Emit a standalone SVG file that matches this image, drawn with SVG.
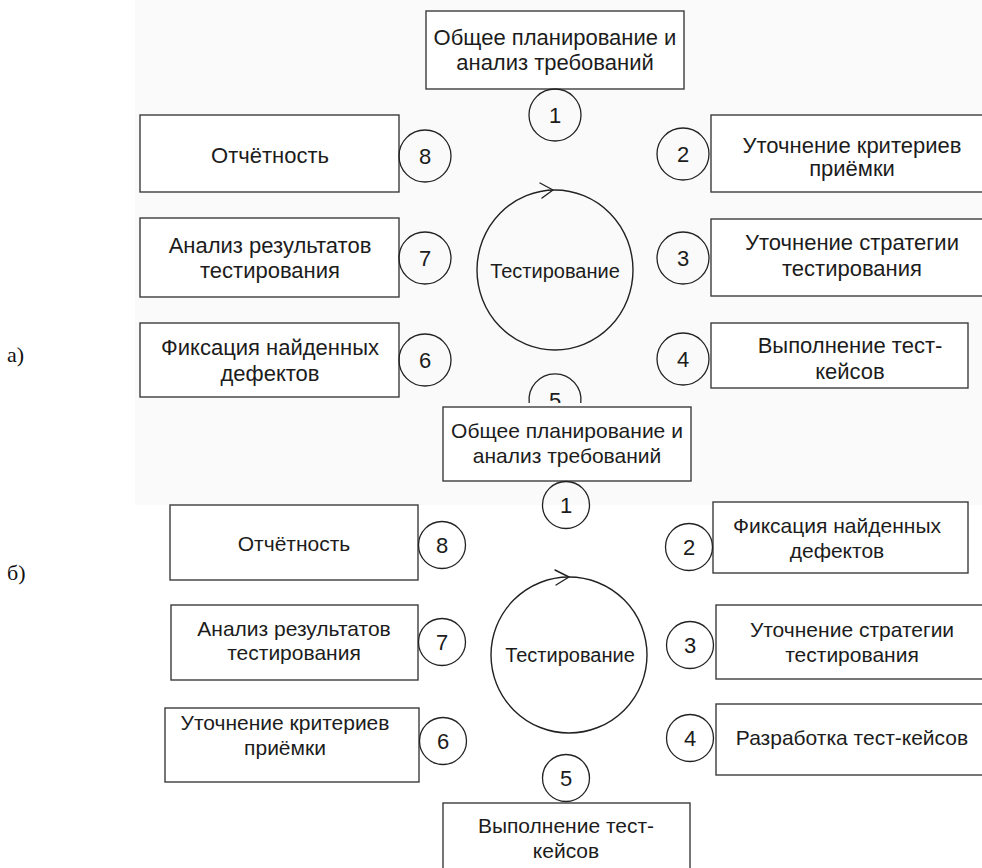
<svg xmlns="http://www.w3.org/2000/svg" width="982" height="868" viewBox="0 0 982 868">
<style>
.box{fill:#ffffff;stroke:#3c3c3c;stroke-width:1.4}
.num{fill:none;stroke:#222;stroke-width:1.3}
.cyc{fill:none;stroke:#222;stroke-width:1.4}
.arr{fill:none;stroke:#222;stroke-width:1.4;stroke-linecap:round;stroke-linejoin:round}
.t{font-family:"Liberation Sans",Arial,sans-serif;fill:#1c1c1c;text-anchor:middle}
.ta{font-size:22px}
.tb{font-size:21px}
.tc{font-size:20px}
.d{font-family:"Liberation Sans",Arial,sans-serif;fill:#1c1c1c;text-anchor:middle;font-size:22px}
.lbl{font-family:"Liberation Serif","Times New Roman",serif;font-size:22px;fill:#111}
</style>
<defs>
<clipPath id="clip5"><rect x="500" y="360" width="120" height="43"/></clipPath>
</defs>
<rect x="0" y="0" width="982" height="868" fill="#ffffff"/>
<rect x="135" y="0" width="847" height="505" fill="#fafafa"/>

<text class="lbl" x="7" y="362">а)</text>
<text class="lbl" x="7" y="580">б)</text>

<!-- Part a -->
<g id="a-step1">
<rect class="box" x="426" y="11" width="258" height="78"/>
<text class="t ta" x="555" y="45">Общее планирование и</text>
<text class="t ta" x="555" y="70">анализ требований</text>
</g>
<g id="a-num1"><circle class="num" cx="555" cy="115" r="26"/><text class="d" x="555" y="123">1</text></g>
<g id="a-step8">
<rect class="box" x="140" y="115" width="259" height="77"/>
<text class="t ta" x="270" y="163">Отчётность</text>
</g>
<g id="a-num8"><circle class="num" cx="425" cy="156" r="26"/><text class="d" x="425" y="164">8</text></g>
<g id="a-step2">
<rect class="box" x="711" y="115" width="272" height="77"/>
<text class="t ta" x="852" y="153">Уточнение критериев</text>
<text class="t ta" x="852" y="176">приёмки</text>
</g>
<g id="a-num2"><circle class="num" cx="683" cy="154" r="26"/><text class="d" x="683" y="162">2</text></g>
<g id="a-step7">
<rect class="box" x="140" y="218" width="259" height="79"/>
<text class="t ta" x="270" y="253">Анализ результатов</text>
<text class="t ta" x="270" y="278">тестирования</text>
</g>
<g id="a-num7"><circle class="num" cx="425" cy="258" r="26"/><text class="d" x="425" y="266">7</text></g>
<g id="a-step3">
<rect class="box" x="711" y="219" width="272" height="77"/>
<text class="t ta" x="852" y="250">Уточнение стратегии</text>
<text class="t ta" x="852" y="276">тестирования</text>
</g>
<g id="a-num3"><circle class="num" cx="683" cy="258" r="26"/><text class="d" x="683" y="266">3</text></g>
<g id="a-step6">
<rect class="box" x="140" y="323" width="259" height="74"/>
<text class="t ta" x="270" y="355">Фиксация найденных</text>
<text class="t ta" x="270" y="381">дефектов</text>
</g>
<g id="a-num6"><circle class="num" cx="425" cy="360" r="26"/><text class="d" x="425" y="368">6</text></g>
<g id="a-step4">
<rect class="box" x="711" y="323" width="257" height="65"/>
<text class="t ta" x="850" y="353">Выполнение тест-</text>
<text class="t ta" x="850" y="379">кейсов</text>
</g>
<g id="a-num4"><circle class="num" cx="683" cy="359" r="26"/><text class="d" x="683" y="367">4</text></g>
<g id="a-num5">
<path class="num" d="M529.2,403 A26,26 0 1,1 580.8,403"/>
<text class="d" x="555" y="408" clip-path="url(#clip5)">5</text>
</g>
<g id="a-cycle">
<ellipse class="cyc" cx="555" cy="270" rx="78" ry="80"/>
<text class="t tc" x="555" y="278">Тестирование</text>
</g>

<!-- Part b -->
<rect x="400" y="403" width="320" height="4" fill="#fafafa"/>
<g id="b-step1">
<rect class="box" x="443" y="407" width="248" height="74"/>
<text class="t tb" x="567" y="438">Общее планирование и</text>
<text class="t tb" x="567" y="463">анализ требований</text>
</g>
<g id="b-num1"><circle class="num" cx="566" cy="505" r="23.5"/><text class="d" x="566" y="513">1</text></g>
<g id="b-step8">
<rect class="box" x="170" y="505" width="248" height="75"/>
<text class="t tb" x="294" y="551">Отчётность</text>
</g>
<g id="b-num8"><circle class="num" cx="442" cy="545" r="23.5"/><text class="d" x="442" y="553">8</text></g>
<g id="b-step2">
<rect class="box" x="713" y="502" width="255" height="71"/>
<text class="t tb" x="837" y="533">Фиксация найденных</text>
<text class="t tb" x="837" y="558">дефектов</text>
</g>
<g id="b-num2"><circle class="num" cx="689" cy="547" r="23.5"/><text class="d" x="689" y="555">2</text></g>
<g id="b-step7">
<rect class="box" x="171" y="605" width="247" height="75"/>
<text class="t tb" x="294" y="636">Анализ результатов</text>
<text class="t tb" x="294" y="660">тестирования</text>
</g>
<g id="b-num7"><circle class="num" cx="442" cy="642" r="23.5"/><text class="d" x="442" y="650">7</text></g>
<g id="b-step3">
<rect class="box" x="716" y="605" width="267" height="74"/>
<text class="t tb" x="852" y="637">Уточнение стратегии</text>
<text class="t tb" x="852" y="662">тестирования</text>
</g>
<g id="b-num3"><circle class="num" cx="690" cy="645" r="23.5"/><text class="d" x="690" y="653">3</text></g>
<g id="b-step6">
<rect class="box" x="165" y="708" width="254" height="74"/>
<text class="t tb" x="285" y="730">Уточнение критериев</text>
<text class="t tb" x="285" y="755">приёмки</text>
</g>
<g id="b-num6"><circle class="num" cx="443" cy="741" r="23.5"/><text class="d" x="443" y="749">6</text></g>
<g id="b-step4">
<rect class="box" x="716" y="704" width="267" height="71"/>
<text class="t tb" x="852" y="745">Разработка тест-кейсов</text>
</g>
<g id="b-num4"><circle class="num" cx="690" cy="738" r="23.5"/><text class="d" x="690" y="746">4</text></g>
<g id="b-num5"><circle class="num" cx="566" cy="778" r="23.5"/><text class="d" x="566" y="786">5</text></g>
<g id="b-step5">
<rect class="box" x="443" y="803" width="247" height="75"/>
<text class="t tb" x="566" y="833">Выполнение тест-</text>
<text class="t tb" x="566" y="858">кейсов</text>
</g>
<g id="b-cycle">
<ellipse class="cyc" cx="569" cy="655" rx="78" ry="78"/>
<text class="t tc" x="570" y="662">Тестирование</text>
</g>

<g id="connectors">
<path class="arr" d="M540,183 L553,190 L542,198"/>
<path class="arr" d="M555,570 L569,577 L556,585"/>
</g>
</svg>
